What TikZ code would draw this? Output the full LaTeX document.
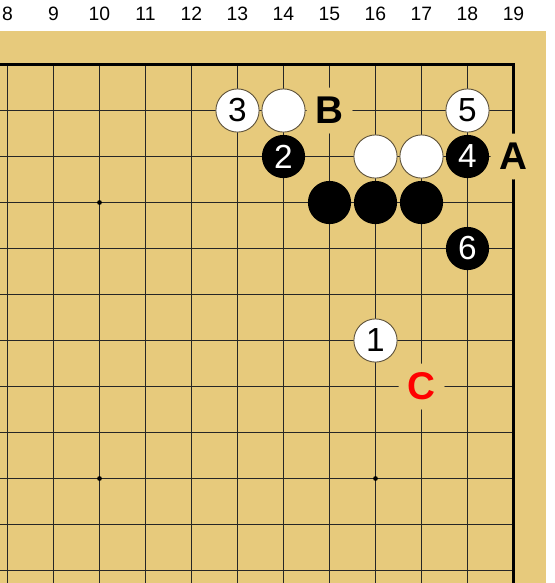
\documentclass[tikz,border=0pt]{standalone}
\usepackage{fontspec}
\setmainfont{Liberation Sans}
\usepackage{tikz}
\definecolor{boardbg}{RGB}{231,202,124}
\definecolor{stoneline}{RGB}{96,84,60}

\tikzset{
    gridline/.style={line width=0.8pt, color=black!85},
    edgeline/.style={line width=1.9pt, color=black, line join=miter},
    colnum/.style={inner sep=0pt, font=\fontsize{14.5}{16}\selectfont},
    wstone/.style={circle, draw=stoneline, line width=0.7pt, fill=white, minimum size=32.4pt, inner sep=0pt, font=\fontsize{25}{28}\selectfont},
    bstone/.style={circle, fill=black, minimum size=32.4pt, inner sep=0pt, text=white, font=\fontsize{25}{28}\selectfont},
    boardmark/.style={circle, fill=boardbg, minimum size=34.5pt, inner sep=0pt, font=\bfseries\fontsize{29}{32}\selectfont},
    hoshi/.style={circle, fill=black, minimum size=3.6pt, inner sep=0pt}
}

\begin{document}
\begin{tikzpicture}[x=0.75pt,y=0.75pt,yscale=-1,xscale=1]
        \useasboundingbox (0,0) rectangle (555,583);
        %Background
        \fill[white] (0,0) rectangle (555,583);
        \fill[boardbg] (0,31) rectangle (546,583);
        % Column numbers
        \foreach \c in {8,...,19}
            \node[colnum] (col\c) at ({7.5+(\c-8)*46},13.5) {\c};
        %Grid lines
        \foreach \c in {8,...,18}
            \draw[gridline] ({7.5+(\c-8)*46},64.5) -- ({7.5+(\c-8)*46},583);
        \foreach \r in {8,...,18}
            \draw[gridline] (0,{64.5+(19-\r)*46}) -- (513.5,{64.5+(19-\r)*46});
        %Board edge
        \draw[edgeline] (0,64.5) -- (513.5,64.5) -- (513.5,583);
        %Star points
        \node[hoshi] (hoshiA) at (99.5,202.5) {};
        \node[hoshi] (hoshiB) at (99.5,478.5) {};
        \node[hoshi] (hoshiC) at (375.5,478.5) {};
        %White stones
        \node[wstone] (w3) at (237.5,110.5) {3};
        \node[wstone] (wN) at (283.5,110.5) {};
        \node[wstone] (w5) at (467.5,110.5) {5};
        \node[wstone] (wP) at (375.5,156.5) {};
        \node[wstone] (wQ) at (421.5,156.5) {};
        \node[wstone] (w1) at (375.5,340.5) {1};
        %Black stones
        \node[bstone] (b2) at (283.5,156.5) {2};
        \node[bstone] (b4) at (467.5,156.5) {4};
        \node[bstone] (bK) at (329.5,202.5) {};
        \node[bstone] (bL) at (375.5,202.5) {};
        \node[bstone] (bM) at (421.5,202.5) {};
        \node[bstone] (b6) at (467.5,248.5) {6};
        %Letter marks
        \node[boardmark] (markB) at (329.5,110.5) {B};
        \node[boardmark] (markA) at (513.5,156.5) {A};
        \node[boardmark, text=red] (markC) at (421.5,386.5) {C};
\end{tikzpicture}
\end{document}
